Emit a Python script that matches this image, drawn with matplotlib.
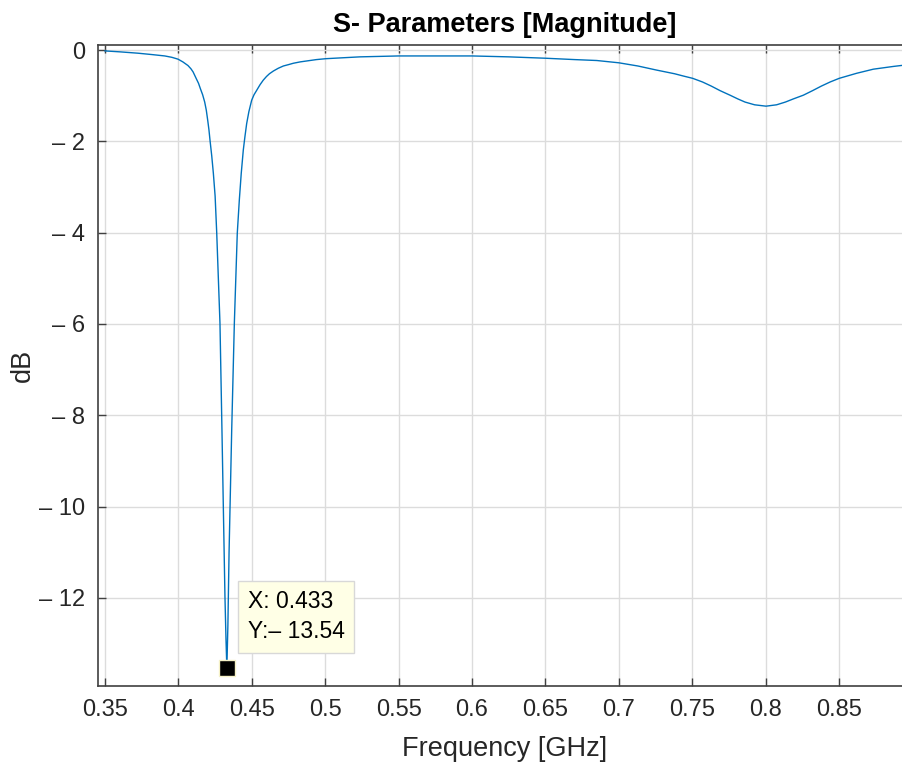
import numpy as np
import matplotlib.pyplot as plt

# ======================================================
# Data (frequency in GHz, magnitude in dB)
# ======================================================

freq = [0.350, 0.360, 0.3725, 0.382, 0.3907, 0.3955, 0.3997, 0.4030, 0.4065,
        0.4085, 0.4100, 0.4122, 0.4137, 0.4150, 0.4165, 0.4179, 0.4190, 0.4200,
        0.4208, 0.4215, 0.4227, 0.4238, 0.4250, 0.4261, 0.4272, 0.4283, 0.4297,
        0.4307, 0.4317, 0.4324, 0.4330, 0.4337, 0.4345, 0.4363, 0.4381, 0.4401,
        0.4415, 0.4428, 0.4442, 0.4453, 0.4465, 0.4480, 0.4499, 0.4515, 0.4530,
        0.4556, 0.4578, 0.4600, 0.4620, 0.4647, 0.4680, 0.4715, 0.4750, 0.4783,
        0.4830, 0.4874, 0.4940, 0.5005, 0.512, 0.5237, 0.537, 0.550, 0.575,
        0.600, 0.625, 0.650, 0.670, 0.685, 0.700, 0.713, 0.7258, 0.738, 0.744,
        0.7503, 0.757, 0.763, 0.769, 0.7758, 0.781, 0.786, 0.7925, 0.8003,
        0.8075, 0.8135, 0.819, 0.8257, 0.832, 0.838, 0.844, 0.8502, 0.862,
        0.8734, 0.887, 0.900]
mag = [-0.02, -0.04, -0.07, -0.10, -0.13, -0.16, -0.20, -0.26, -0.34,
       -0.41, -0.48, -0.63, -0.73, -0.85, -0.98, -1.14, -1.32, -1.55,
       -1.75, -1.97, -2.32, -2.70, -3.20, -4.01, -5.00, -5.98, -8.40,
       -10.2, -11.97, -12.9, -13.54, -12.6, -11.0, -8.32, -5.98, -4.01,
       -3.28, -2.70, -2.19, -1.90, -1.61, -1.35, -1.10, -0.98, -0.90,
       -0.76, -0.66, -0.58, -0.52, -0.46, -0.40, -0.35, -0.32, -0.29,
       -0.26, -0.24, -0.21, -0.19, -0.17, -0.15, -0.14, -0.13, -0.13,
       -0.13, -0.15, -0.18, -0.21, -0.23, -0.28, -0.35, -0.44, -0.52, -0.57,
       -0.62, -0.70, -0.79, -0.89, -0.99, -1.07, -1.14, -1.20, -1.23,
       -1.20, -1.14, -1.07, -0.99, -0.89, -0.79, -0.70, -0.62, -0.51,
       -0.42, -0.36, -0.31]

xticks = [0.35, 0.4, 0.45, 0.5, 0.55, 0.6, 0.65, 0.7, 0.75, 0.8, 0.85]
xticklabels = ["0.35", "0.4", "0.45", "0.5", "0.55", "0.6", "0.65", "0.7", "0.75", "0.8", "0.85"]
yticks = [0, -2, -4, -6, -8, -10, -12]
yticklabels = ["0", "\u2013 2", "\u2013 4", "\u2013 6", "\u2013 8", "\u2013 10", "\u2013 12"]

tip_x = 0.433
tip_y = -13.54

# ======================================================
# Plot
# ======================================================

plt.rcParams['font.family'] = ['Liberation Sans', 'DejaVu Sans']

dark = '#262626'
fig = plt.figure(figsize=(9.02, 7.69), dpi=100)
ax = fig.add_axes([0.1083, 0.1079, 0.9032, 0.8336])

ax.plot(freq, mag, color='#0072BD', lw=1.0)

ax.set_xlim(0.345, 0.9)
ax.set_ylim(-13.93, 0.11)
ax.set_xticks(xticks)
ax.set_xticklabels(xticklabels)
ax.set_yticks(yticks)
ax.set_yticklabels(yticklabels)

ax.grid(True, color='#dcdcdc', lw=1.0)
ax.set_axisbelow(True)
ax.tick_params(direction='in', length=6, width=1.0, colors='#404040',
               labelcolor=dark, labelsize=17, top=True, right=True, pad=9)
for s in ax.spines.values():
    s.set_color('#404040')
    s.set_linewidth(1.2)

ax.set_title("S- Parameters [Magnitude]", fontsize=19.5, fontweight='bold',
             color='black', pad=9)
ax.set_xlabel("Frequency [GHz]", fontsize=19.5, color=dark, labelpad=11)
ax.set_ylabel("dB", fontsize=19.5, color=dark, labelpad=2)

# data tip
ax.plot([tip_x], [tip_y], marker='s', ms=11, color='black', mec='#f6f2c8',
        mew=1.0, clip_on=False, zorder=5)
ax.annotate(f"X: {tip_x:.3f}\nY:\u2013 {abs(tip_y):.2f}", xy=(tip_x, tip_y),
            xytext=(50, 37), textcoords='offset points', ha='center', va='center',
            multialignment='left', fontsize=16.5, color='black', linespacing=1.4,
            bbox=dict(boxstyle='square,pad=0.42', fc='#FFFFE6', ec='#d8d8d8', lw=1.0),
            zorder=6)

fig.savefig("out.png", dpi=100)
